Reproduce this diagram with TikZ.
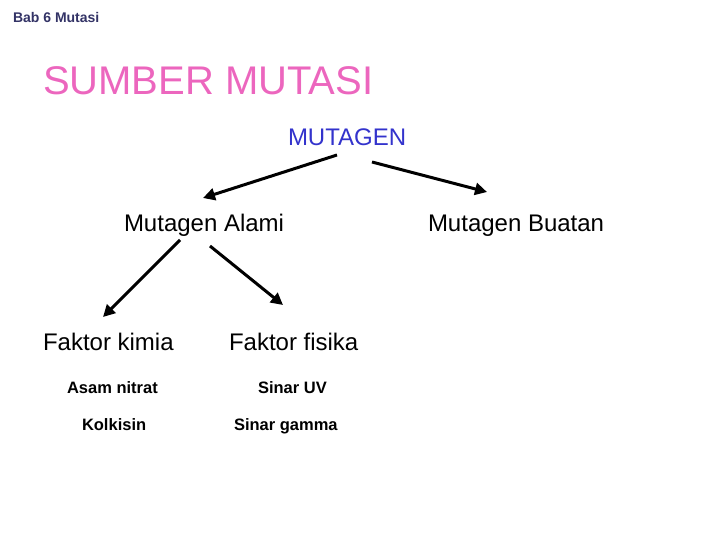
\documentclass[tikz,border=0pt]{standalone}
\usepackage{fontspec}
\setmainfont{Liberation Sans}
\usetikzlibrary{arrows.meta}
\definecolor{titlepink}{RGB}{236,102,190}
\definecolor{mutblue}{RGB}{51,51,204}
\definecolor{headnavy}{RGB}{51,51,102}
\tikzset{
  txt/.style={anchor=base west,inner sep=0pt,outer sep=0pt},
  big/.style={txt,font=\fontsize{24}{28}\selectfont},
  small/.style={txt,font=\fontsize{16.5}{20}\selectfont\bfseries},
  arr/.style={line width=3pt,-{Triangle[length=12pt,width=12pt]}}
}
\begin{document}
\begin{tikzpicture}[x=1pt,y=-1pt]
\useasboundingbox (0,0) rectangle (720,540);
\node[txt,font=\fontsize{14}{16}\selectfont\bfseries,text=headnavy] (bab) at (13,23) {Bab 6 Mutasi};
\node[txt,font=\fontsize{40}{46}\selectfont,text=titlepink] (title) at (43,95) {SUMBER MUTASI};
\node[big,text=mutblue] (mutagen) at (288,146) {MUTAGEN};
\node[big] (alami) at (124,231) {Mutagen Alami};
\node[big] (buatan) at (428,231) {Mutagen Buatan};
\node[big] (kimia) at (43,350) {Faktor kimia};
\node[big] (fisika) at (229,350) {Faktor fisika};
\node[small] (asam) at (67,393) {Asam nitrat};
\node[small] (kolk) at (82,430) {Kolkisin};
\node[small] (uv) at (258,393) {Sinar UV};
\node[small] (gamma) at (234,430) {Sinar gamma};
\coordinate (m1) at (337,155);
\coordinate (t1) at (203,198);
\coordinate (m2) at (372,162);
\coordinate (t2) at (487,192);
\coordinate (a1) at (180,240);
\coordinate (t3) at (103,317);
\coordinate (a2) at (210,246);
\coordinate (t4) at (283,305);
\draw[arr] (m1) -- (t1);
\draw[arr] (m2) -- (t2);
\draw[arr] (a1) -- (t3);
\draw[arr] (a2) -- (t4);
\end{tikzpicture}
\end{document}
